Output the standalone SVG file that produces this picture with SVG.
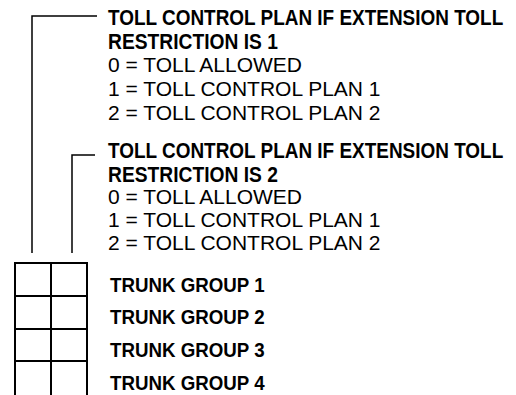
<svg xmlns="http://www.w3.org/2000/svg" width="516" height="395" viewBox="0 0 516 395">
<style>
.b{font-family:"Liberation Sans",Arial,sans-serif;font-weight:bold;font-size:22px;fill:#000}
.r{font-family:"Liberation Sans",Arial,sans-serif;font-size:21px;fill:#000}
.t{font-family:"Liberation Sans",Arial,sans-serif;font-weight:bold;font-size:20px;fill:#000}
.ln{stroke:#000;stroke-width:1.5;fill:none}
.gr{stroke:#000;stroke-width:2;fill:none}
</style>
<rect width="516" height="395" fill="#fff"/>
<g id="connectors">
<path class="ln" d="M97,16 H32 V253"/>
<path class="ln" d="M95,155 H72 V253"/>
</g>
<g id="grid">
<path class="gr" d="M15,395 V263 H87 V395 M51,263 V395 M15,296 H87 M15,329 H87 M15,361 H87"/>
</g>
<g id="plan1">
<text class="b" transform="translate(108,25) scale(0.8615,1)">TOLL CONTROL PLAN IF EXTENSION TOLL</text>
<text class="b" transform="translate(108,48.5) scale(0.8745,1)">RESTRICTION IS 1</text>
<text class="r" x="108" y="72">0 = TOLL ALLOWED</text>
<text class="r" x="108" y="96">1 = TOLL CONTROL PLAN 1</text>
<text class="r" x="108" y="120">2 = TOLL CONTROL PLAN 2</text>
</g>
<g id="plan2">
<text class="b" transform="translate(108,158) scale(0.8615,1)">TOLL CONTROL PLAN IF EXTENSION TOLL</text>
<text class="b" transform="translate(108,181.5) scale(0.8745,1)">RESTRICTION IS 2</text>
<text class="r" x="108" y="204">0 = TOLL ALLOWED</text>
<text class="r" x="108" y="227">1 = TOLL CONTROL PLAN 1</text>
<text class="r" x="108" y="249.5">2 = TOLL CONTROL PLAN 2</text>
</g>
<g id="trunk1"><text class="t" transform="translate(110,292) scale(0.936,1)">TRUNK GROUP 1</text></g>
<g id="trunk2"><text class="t" transform="translate(110,324) scale(0.936,1)">TRUNK GROUP 2</text></g>
<g id="trunk3"><text class="t" transform="translate(110,357) scale(0.936,1)">TRUNK GROUP 3</text></g>
<g id="trunk4"><text class="t" transform="translate(110,390) scale(0.936,1)">TRUNK GROUP 4</text></g>
</svg>
